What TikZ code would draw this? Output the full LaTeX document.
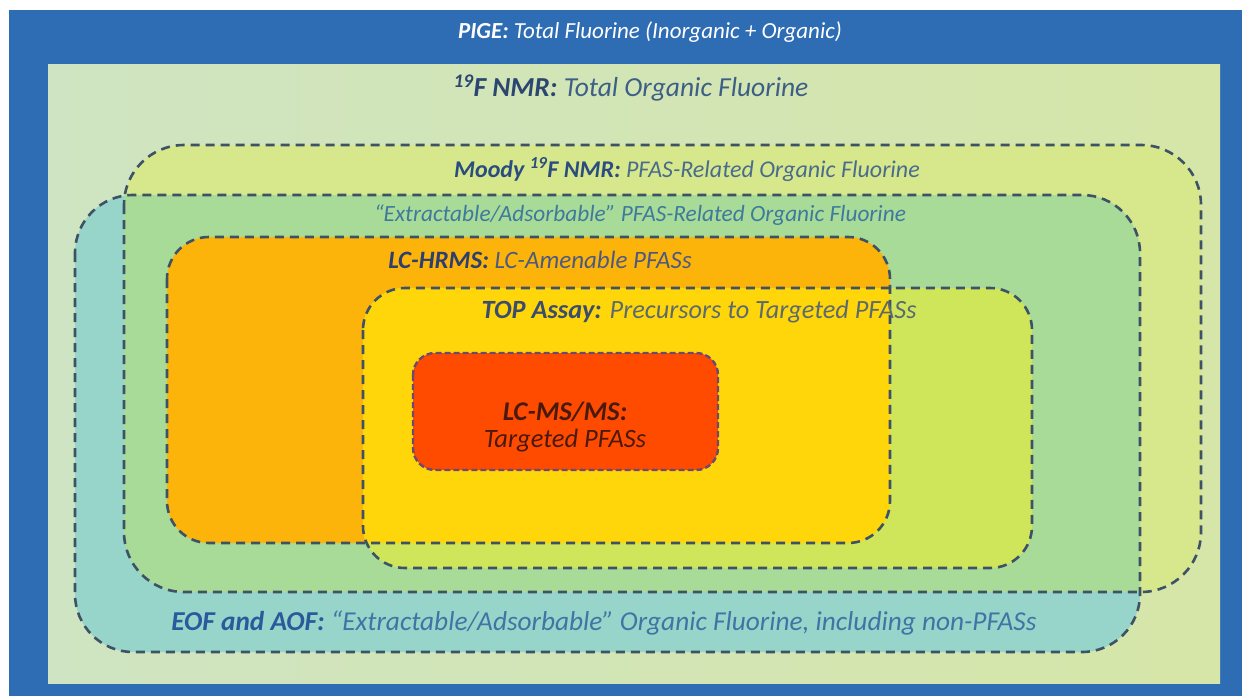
\documentclass[tikz,border=0pt]{standalone}
\usepackage{fontspec}
\setmainfont{Carlito}
\definecolor{bluebg}{HTML}{2E6DB4}
\definecolor{innerL}{HTML}{CFE4C2}
\definecolor{innerR}{HTML}{D6E6A8}
\definecolor{moodyfill}{HTML}{D7E78C}
\definecolor{eoffill}{HTML}{97D4C9}
\definecolor{interfill}{HTML}{A8DA98}
\definecolor{hrmsfill}{HTML}{FDB40A}
\definecolor{topfill}{HTML}{CFE65A}
\definecolor{topinhrms}{HTML}{FFD60A}
\definecolor{msfill}{HTML}{FF4B00}
\definecolor{dashcol}{HTML}{3E5266}
\definecolor{msdash}{HTML}{6A4A70}
\definecolor{nmrB}{HTML}{2C4670}
\definecolor{nmrT}{HTML}{3D5F86}
\definecolor{moodyB}{HTML}{2B4C7E}
\definecolor{moodyT}{HTML}{4A6C8C}
\definecolor{extrT}{HTML}{3E7A9E}
\definecolor{hrmsB}{HTML}{2E3F6E}
\definecolor{hrmsT}{HTML}{4D5A80}
\definecolor{topB}{HTML}{3C4C6C}
\definecolor{topT}{HTML}{5C6A6E}
\definecolor{msT}{HTML}{4A1A10}
\definecolor{eofB}{HTML}{2A5A9C}
\definecolor{eofT}{HTML}{3F74A4}
\begin{document}
\begin{tikzpicture}[x=1pt,y=-1pt,
  outline/.style={draw=dashcol, line width=2.6pt, dash pattern=on 9pt off 6pt},
  lbl/.style={inner sep=0pt, font=\itshape},
  fs/.style={font=\fontsize{#1}{#1}\selectfont\itshape}
]
\useasboundingbox (0,0) rectangle (1242,696);
\fill[white] (0,0) rectangle (1242,696);
\fill[bluebg] (9,10) rectangle (1242,696);
\shade[left color=innerL, right color=innerR] (48,64) rectangle (1220,683);
% Moody region and EOF region
\fill[moodyfill, rounded corners=60pt] (124,145) rectangle (1201,592);
\fill[eoffill, rounded corners=58pt] (75,195) rectangle (1140,652);
\begin{scope}
  \clip[rounded corners=60pt] (124,145) rectangle (1201,592);
  \fill[interfill, rounded corners=58pt] (75,195) rectangle (1140,652);
\end{scope}
% LC-HRMS and TOP
\fill[hrmsfill, rounded corners=42pt] (167,237) rectangle (890,543);
\fill[topfill, rounded corners=42pt] (363,288) rectangle (1032,568);
\begin{scope}
  \clip[rounded corners=42pt] (363,288) rectangle (1032,568);
  \fill[topinhrms, rounded corners=42pt] (167,237) rectangle (890,543);
\end{scope}
% LC-MS/MS
\fill[msfill, rounded corners=22pt] (413,353) rectangle (718,470);
% outlines
\draw[outline, rounded corners=60pt] (124,145) rectangle (1201,592);
\draw[outline, rounded corners=58pt] (75,195) rectangle (1140,652);
\draw[outline, rounded corners=42pt] (167,237) rectangle (890,543);
\draw[outline, rounded corners=42pt] (363,288) rectangle (1032,568);
\draw[draw=msdash, line width=2.4pt, dash pattern=on 6pt off 3pt, rounded corners=22pt] (413,353) rectangle (718,470);
% labels
\node[lbl, fs=23, text=white] (pige) at (650,32) {\textbf{PIGE:} Total Fluorine (Inorganic + Organic)};
\node[lbl, fs=27.5, text=nmrT] (nmr) at (631,88) {\textcolor{nmrB}{\textbf{\textsuperscript{19}F NMR:}} Total Organic Fluorine};
\node[lbl, fs=24, text=moodyT] (moody) at (687,170) {\textcolor{moodyB}{\textbf{Moody \textsuperscript{19}F NMR:}} PFAS-Related Organic Fluorine};
\node[lbl, fs=23.3, text=extrT] (extr) at (640,215) {“Extractable/Adsorbable” PFAS-Related Organic Fluorine};
\node[lbl, fs=25, text=hrmsT] (hrms) at (540,260) {\textcolor{hrmsB}{\textbf{LC-HRMS:}} LC-Amenable PFASs};
\node[lbl, fs=26.3, text=topT] (top) at (699,312) {\textcolor{topB}{\textbf{TOP Assay:}} Precursors to Targeted PFASs};
\node[lbl, fs=27, text=msT] (ms1) at (565,412) {\textbf{LC-MS/MS:}};
\node[lbl, fs=26.5, text=msT] (ms2) at (565,441) {Targeted PFASs};
\node[lbl, fs=27.3, text=eofT] (eof) at (604,623) {\textcolor{eofB}{\textbf{EOF and AOF:}} “Extractable/Adsorbable” Organic Fluorine, including non-PFASs};
\end{tikzpicture}
\end{document}
